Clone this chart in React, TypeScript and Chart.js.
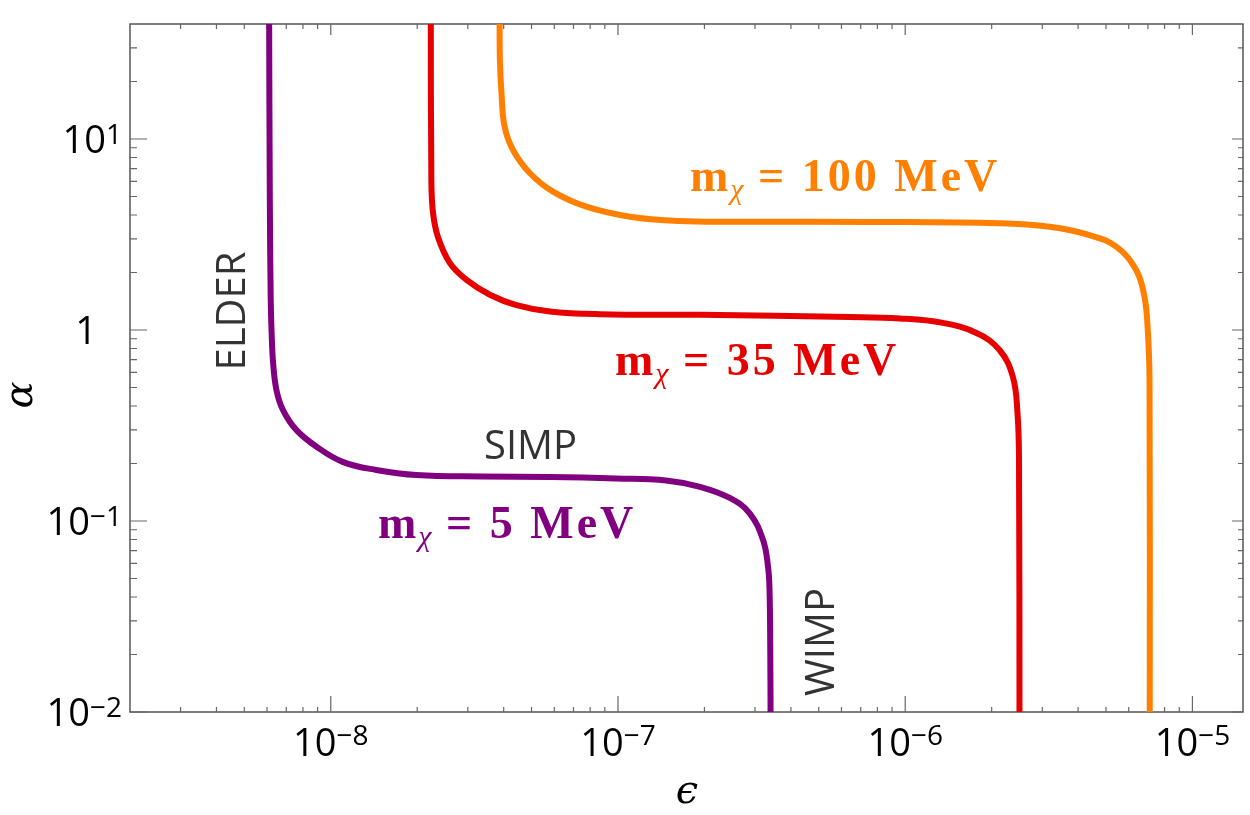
import { useEffect, useRef } from "react";
import { Chart, registerables } from "chart.js";

Chart.register(...registerables);

// ---- data ----
const purpleEps = [6.10e-9, 6.135e-9, 6.18e-9, 6.22e-9, 6.30e-9, 6.47e-9, 6.82e-9, 7.60e-9, 8.92e-9, 1.10e-8, 1.44e-8, 1.99e-8, 3.38e-8, 5.79e-8, 9.87e-8, 1.47e-7, 1.93e-7, 2.45e-7, 2.87e-7, 3.20e-7, 3.33e-7, 3.37e-7, 3.39e-7, 3.40e-7];
const purpleAlpha = [50, 4.80, 1.44, 1.00, 0.671, 0.485, 0.381, 0.299, 0.245, 0.204, 0.185, 0.174, 0.171, 0.170, 0.167, 0.163, 0.151, 0.132, 0.110, 0.0795, 0.0576, 0.0435, 0.0211, 0.008];

const redEps = [2.23e-8, 2.24e-8, 2.27e-8, 2.36e-8, 2.60e-8, 2.97e-8, 3.58e-8, 4.43e-8, 5.79e-8, 8.64e-8, 1.93e-7, 6.41e-7, 9.56e-7, 1.35e-6, 1.77e-6, 2.13e-6, 2.37e-6, 2.46e-6, 2.49e-6, 2.50e-6];
const redAlpha = [50, 6.10, 4.10, 3.08, 2.24, 1.83, 1.53, 1.35, 1.25, 1.21, 1.20, 1.17, 1.15, 1.09, 0.965, 0.786, 0.569, 0.368, 0.209, 0.008];

const orangeEps = [3.87e-8, 3.88e-8, 3.93e-8, 4.03e-8, 4.31e-8, 4.93e-8, 5.94e-8, 7.76e-8, 1.10e-7, 1.64e-7, 2.65e-7, 7.52e-7, 2.13e-6, 3.18e-6, 4.38e-6, 5.43e-6, 6.37e-6, 6.81e-6, 6.99e-6, 7.09e-6, 7.10e-6];
const orangeAlpha = [50, 25.9, 17.4, 11.6, 8.76, 6.64, 5.30, 4.42, 3.92, 3.72, 3.69, 3.68, 3.62, 3.47, 3.14, 2.73, 2.06, 1.49, 1.00, 0.547, 0.008];

const seriesLabels = ["5 MeV", "35 MeV", "100 MeV"];
const seriesColors = ["#800080", "#e60000", "#ff8000"];

const xMajorTicks = [1e-8, 1e-7, 1e-6, 1e-5];
const xTickExps = ["\u22128", "\u22127", "\u22126", "\u22125"];
const yMajorTicks = [0.01, 0.1, 1, 10];
const yTickExps = ["\u22122", "\u22121", "", "1"];
const xDecades = [1e-9, 1e-8, 1e-7, 1e-6, 1e-5];
const yDecades = [0.01, 0.1, 1, 10];
const minorMults = [2, 3, 4, 5, 6, 7, 8, 9];

const X_MIN = 2e-9, X_MAX = 1.5e-5, Y_MIN = 0.01, Y_MAX = 40;

const SANS = '"Open Sans", "DejaVu Sans", sans-serif';
const SERIF = '"Liberation Serif", "DejaVu Serif", serif';

const overlay = {
  id: "overlay",
  beforeDatasetsDraw(chart: any) {
    const { ctx, chartArea: a, scales } = chart;
    const xs = scales.x, ys = scales.y;
    ctx.save();
    ctx.strokeStyle = "#555";
    ctx.lineWidth = 1.5;
    ctx.strokeRect(a.left, a.top, a.right - a.left, a.bottom - a.top);
    ctx.strokeStyle = "#666";
    ctx.lineWidth = 1.2;
    const xMinor: number[] = [];
    xDecades.forEach((d) => minorMults.forEach((m) => { const v = d * m; if (v > X_MIN && v < X_MAX) xMinor.push(v); }));
    const yMinor: number[] = [];
    yDecades.forEach((d) => minorMults.forEach((m) => { const v = d * m; if (v > Y_MIN && v < Y_MAX) yMinor.push(v); }));
    ctx.beginPath();
    xMajorTicks.forEach((v) => {
      const p = xs.getPixelForValue(v);
      ctx.moveTo(p, a.bottom); ctx.lineTo(p, a.bottom - 16);
      ctx.moveTo(p, a.top); ctx.lineTo(p, a.top + 11);
    });
    xMinor.forEach((v) => {
      const p = xs.getPixelForValue(v);
      ctx.moveTo(p, a.bottom); ctx.lineTo(p, a.bottom - 5);
      ctx.moveTo(p, a.top); ctx.lineTo(p, a.top + 5);
    });
    yMajorTicks.forEach((v) => {
      const p = ys.getPixelForValue(v);
      ctx.moveTo(a.left, p); ctx.lineTo(a.left + 17, p);
      ctx.moveTo(a.right, p); ctx.lineTo(a.right - 11, p);
    });
    yMinor.forEach((v) => {
      const p = ys.getPixelForValue(v);
      ctx.moveTo(a.left, p); ctx.lineTo(a.left + 7, p);
      ctx.moveTo(a.right, p); ctx.lineTo(a.right - 5, p);
    });
    ctx.stroke();

    // tick labels
    ctx.fillStyle = "#000";
    ctx.textBaseline = "alphabetic";
    ctx.textAlign = "left";
    const baseFont = `38px ${SANS}`;
    const supFont = `28px ${SANS}`;
    xMajorTicks.forEach((v, i) => {
      const p = xs.getPixelForValue(v);
      ctx.font = baseFont;
      const wb = ctx.measureText("10").width;
      ctx.font = supFont;
      const we = ctx.measureText(xTickExps[i]).width;
      const start = p - (wb + we) / 2;
      ctx.font = baseFont;
      ctx.fillText("10", start, a.bottom + 44);
      ctx.font = supFont;
      ctx.fillText(xTickExps[i], start + wb, a.bottom + 33);
    });
    yMajorTicks.forEach((v, i) => {
      const p = ys.getPixelForValue(v);
      if (!yTickExps[i]) {
        ctx.font = baseFont;
        ctx.textAlign = "right";
        ctx.fillText("1", 97, p + 14);
        ctx.textAlign = "left";
        return;
      }
      ctx.font = supFont;
      const we = ctx.measureText(yTickExps[i]).width;
      ctx.font = baseFont;
      const wb = ctx.measureText("10").width;
      const right = 122;
      ctx.fillText("10", right - we - wb, p + 14);
      ctx.font = supFont;
      ctx.fillText(yTickExps[i], right - we, p + 5);
    });

    // axis titles
    ctx.font = `italic 40px "DejaVu Serif", serif`;
    ctx.textAlign = "center";
    ctx.fillText("\u03f5", 687, 803);
    ctx.save();
    ctx.translate(32, 395);
    ctx.rotate(-Math.PI / 2);
    ctx.fillText("\u03b1", 0, 0);
    ctx.restore();
    ctx.restore();
  },
  afterDatasetsDraw(chart: any) {
    const { ctx } = chart;
    ctx.save();
    // regime labels
    ctx.fillStyle = "#333";
    ctx.font = `40px ${SANS}`;
    ctx.textBaseline = "alphabetic";
    ctx.textAlign = "left";
    ctx.fillText("SIMP", 484, 459);
    ctx.textAlign = "center";
    ctx.save();
    ctx.translate(245, 311);
    ctx.rotate(-Math.PI / 2);
    ctx.fillText("ELDER", 0, 0);
    ctx.restore();
    ctx.save();
    ctx.translate(834, 642);
    ctx.rotate(-Math.PI / 2);
    ctx.fillText("WIMP", 0, 0);
    ctx.restore();

    // mass labels
    const mass = (x0: number, y: number, color: string, label: string) => {
      let x = x0;
      ctx.fillStyle = color;
      ctx.textAlign = "left";
      ctx.font = `bold 46px ${SERIF}`;
      ctx.letterSpacing = "0px";
      ctx.fillText("m", x, y);
      x += ctx.measureText("m").width + 2;
      ctx.font = `italic 30px ${SERIF}`;
      ctx.fillText("\u03c7", x, y + 8);
      x += ctx.measureText("\u03c7").width;
      ctx.font = `bold 46px ${SERIF}`;
      ctx.letterSpacing = "3px";
      ctx.fillText(" = " + label, x, y);
      ctx.letterSpacing = "0px";
    };
    mass(378, 538, seriesColors[0], seriesLabels[0]);
    mass(615, 375, seriesColors[1], seriesLabels[1]);
    mass(690, 191, seriesColors[2], seriesLabels[2]);
    ctx.restore();
  },
};

export default function App() {
  const ref = useRef<HTMLCanvasElement | null>(null);
  useEffect(() => {
    if (!ref.current) return;
    const mk = (xs: number[], ys: number[]) => xs.map((x, i) => ({ x, y: ys[i] }));
    const chart = new Chart(ref.current, {
      type: "line",
      data: {
        datasets: [
          { label: seriesLabels[0], data: mk(purpleEps, purpleAlpha), borderColor: seriesColors[0] },
          { label: seriesLabels[1], data: mk(redEps, redAlpha), borderColor: seriesColors[1] },
          { label: seriesLabels[2], data: mk(orangeEps, orangeAlpha), borderColor: seriesColors[2] },
        ].map((d) => ({ ...d, borderWidth: 6, pointRadius: 0, tension: 0.4, fill: false })),
      },
      options: {
        animation: false,
        responsive: false,
        layout: { padding: { left: 130, top: 24, right: 7, bottom: 103 } },
        plugins: { legend: { display: false }, tooltip: { enabled: false } },
        scales: {
          x: { type: "logarithmic", min: X_MIN, max: X_MAX, display: false },
          y: { type: "logarithmic", min: Y_MIN, max: Y_MAX, display: false },
        },
      },
      plugins: [overlay],
    });
    return () => chart.destroy();
  }, []);
  return (
    <div style={{ position: "absolute", left: 0, top: 0, width: 1250, height: 815, background: "#fff" }}>
      <canvas ref={ref} width={1250} height={815} style={{ display: "block" }} />
    </div>
  );
}
